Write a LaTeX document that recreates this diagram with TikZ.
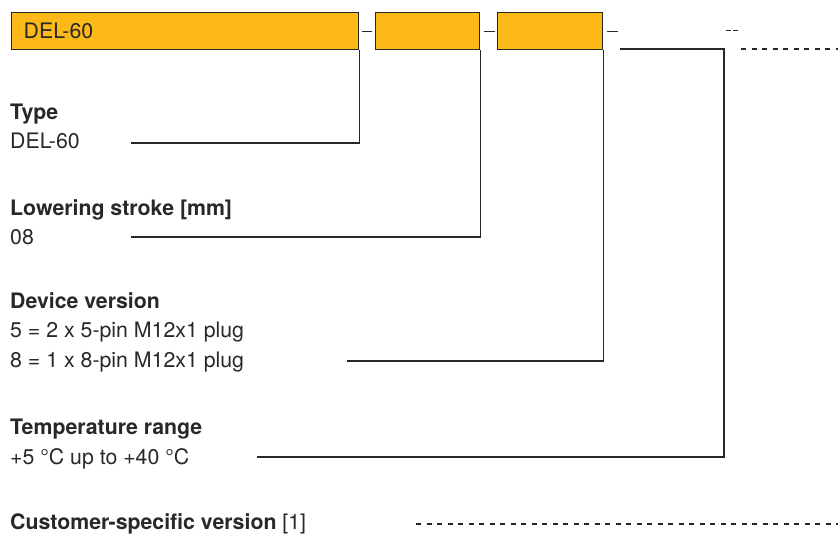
\documentclass[tikz,border=0pt]{standalone}
\usepackage{fontspec}
\setmainfont{TeX Gyre Heros}
\usetikzlibrary{positioning}
\definecolor{codeamber}{RGB}{252,185,23}
\definecolor{inkgray}{RGB}{40,40,40}

\begin{document}
\begin{tikzpicture}[
    x=1pt, y=-1pt,
    code box/.style={rectangle, draw=inkgray, fill=codeamber, line width=1.4pt, minimum height=37pt, anchor=north west, inner ysep=0pt},
    title text/.style={anchor=base west, inner sep=0pt, text=inkgray, font=\fontsize{21.3}{25}\selectfont\bfseries},
    value text/.style={anchor=base west, inner sep=0pt, text=inkgray, font=\fontsize{21.3}{25}\selectfont},
    lead line/.style={draw=inkgray, line width=1.3pt},
    open line/.style={draw=inkgray, line width=1.3pt, dash pattern=on 5pt off 5.5pt}
]
    \useasboundingbox (0,0) rectangle (838,534);

    % --- Order code ---
    \node[code box, text width=323pt, inner xsep=12pt, align=left, text=inkgray,
          font=\fontsize{21.3}{25}\selectfont] (del box) at (11,12) {DEL-60};
    \node[code box, minimum width=104pt] (stroke box) at (375,12) {};
    \node[code box, minimum width=105pt] (version box) at (497,12) {};

    \coordinate (open a) at (726,30.5);
    \coordinate (open b) at (738,30.5);
    \coordinate (open c) at (741,49);
    \coordinate (open d) at (838,49);

    \draw[lead line] ([xshift=3]del box.east) -- ([xshift=-3]stroke box.west);
    \draw[lead line] ([xshift=4]stroke box.east) -- ([xshift=-2]version box.west);
    \draw[lead line] ([xshift=4]version box.east) -- ([xshift=15]version box.east);
    \draw[lead line, dash pattern=on 4.5pt off 2.5pt] (open a) -- (open b);
    \draw[open line] (open c) -- (open d);

    % --- Labels ---
    \node[title text] (type title) at (10,120) {Type};
    \node[value text] (type value) at (10,149) {DEL-60};
    \node[title text] (stroke title) at (10,216) {Lowering stroke [mm]};
    \node[value text] (stroke value) at (10,245) {08};
    \node[title text] (version title) at (10,309) {Device version};
    \node[value text] (version value a) at (10,338) {5 = 2 x 5-pin M12x1 plug};
    \node[value text] (version value b) at (10,368) {8 = 1 x 8-pin M12x1 plug};
    \node[title text] (temp title) at (10,434) {Temperature range};
    \node[value text] (temp value) at (10,464) {+5 °C up to +40 °C};
    \node[title text] (custom title) at (10,529) {Customer-specific version \mdseries[1]};

    % --- Lead lines ---
    \coordinate (type end) at (131,143);
    \coordinate (stroke end) at (131,237);
    \coordinate (version end) at (347,361);
    \coordinate (temp start) at (620,49);
    \coordinate (temp bend) at (724,49);
    \coordinate (temp end) at (257,457);
    \coordinate (custom start) at (416,524);
    \coordinate (custom end) at (838,524);

    \draw[lead line] (del box.south east) |- (type end);
    \draw[lead line] (stroke box.south east) |- (stroke end);
    \draw[lead line] (version box.south east) |- (version end);
    \draw[lead line] (temp start) -- (temp bend) |- (temp end);
    \draw[open line] (custom start) -- (custom end);
\end{tikzpicture}
\end{document}
